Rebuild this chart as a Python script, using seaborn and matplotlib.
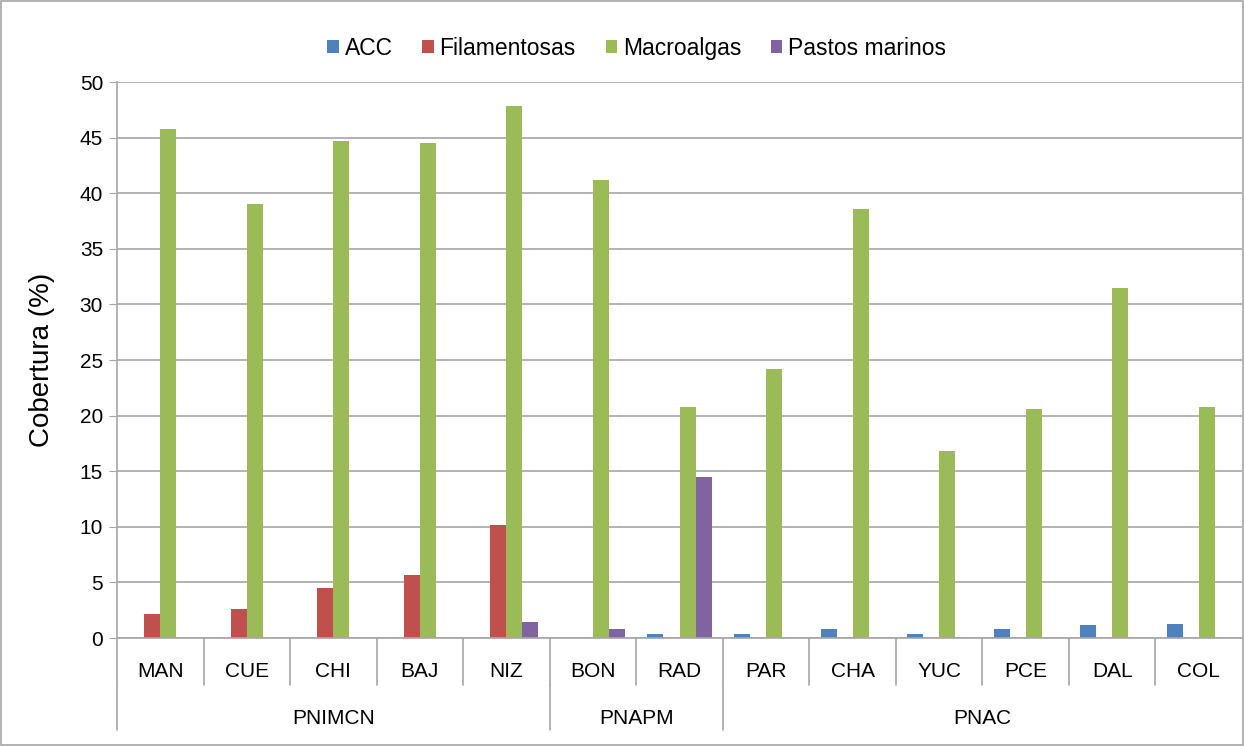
import matplotlib
matplotlib.use("Agg")
import matplotlib.pyplot as plt
import matplotlib.transforms as mtransforms
from matplotlib import font_manager
import seaborn as sns
import pandas as pd

sites = ["MAN", "CUE", "CHI", "BAJ", "NIZ", "BON", "RAD", "PAR", "CHA", "YUC", "PCE", "DAL", "COL"]
groups = ["PNIMCN", "PNAPM", "PNAC"]
group_sizes = [5, 2, 6]
series = ["ACC", "Filamentosas", "Macroalgas", "Pastos marinos"]
acc = [0, 0, 0, 0, 0, 0, 0.4, 0.4, 0.8, 0.4, 0.8, 1.2, 1.3]
filamentosas = [2.2, 2.6, 4.5, 5.7, 10.2, 0, 0, 0, 0, 0, 0, 0, 0]
macroalgas = [45.8, 39.0, 44.7, 44.5, 47.8, 41.2, 20.8, 24.2, 38.6, 16.8, 20.6, 31.5, 20.8]
pastos = [0, 0, 0, 0, 1.4, 0.8, 14.5, 0, 0, 0, 0, 0, 0]
colors = ["#4F81BD", "#C0504D", "#9BBB59", "#8064A2"]

rows = []
for name, vals in zip(series, [acc, filamentosas, macroalgas, pastos]):
    for s, v in zip(sites, vals):
        rows.append({"site": s, "serie": name, "valor": v})
df = pd.DataFrame(rows)

sns.set_style("white")
avail = {f.name for f in font_manager.fontManager.ttflist}
fam = "Liberation Sans Narrow" if "Liberation Sans Narrow" in avail else "Liberation Sans"
plt.rcParams["font.family"] = [fam, "DejaVu Sans"]
plt.rcParams["text.color"] = "black"
plt.rcParams["axes.labelcolor"] = "black"
plt.rcParams["xtick.color"] = "black"
plt.rcParams["ytick.color"] = "black"

fig = plt.figure(figsize=(12.44, 7.46), dpi=100)
ax = fig.add_axes([117 / 1244, 1 - 638 / 746, (1242 - 117) / 1244, (638 - 82) / 746])

sns.barplot(data=df, x="site", y="valor", hue="serie", order=sites, hue_order=series,
            palette=colors, width=0.74, gap=0, saturation=1, ax=ax, errorbar=None,
            edgecolor="none", linewidth=0)

ax.set_ylim(0, 50)
ax.set_xlim(-0.5, len(sites) - 0.5)
ax.set_yticks(range(0, 51, 5))
ax.yaxis.grid(True, color="#A6A6A6", linewidth=1.2)
ax.set_axisbelow(True)
for sp in ["top", "right"]:
    ax.spines[sp].set_visible(False)
for sp in ["left", "bottom"]:
    ax.spines[sp].set_color("#A6A6A6")
    ax.spines[sp].set_linewidth(1.2)
ax.tick_params(axis="y", which="both", left=True, length=6, color="#A6A6A6",
               labelcolor="black", labelsize=15, pad=4)
ax.tick_params(axis="x", bottom=False, labelcolor="black", labelsize=15, pad=14)
ax.set_xlabel("")
ax.set_ylabel("Cobertura (%)", fontsize=20, labelpad=18, color="black")

trans = mtransforms.blended_transform_factory(ax.transData, ax.transAxes)
# category separators
for i in range(len(sites)):
    ax.plot([i - 0.5, i - 0.5], [0, -0.084], transform=trans, color="#A6A6A6",
            linewidth=1.2, clip_on=False)
# group separators and labels
start = 0
bounds = [0]
for g, n in zip(groups, group_sizes):
    ax.text(start + (n - 1) / 2, -0.145, g, transform=trans, ha="center", va="center",
            fontsize=15, color="black")
    start += n
    bounds.append(start)
for b in bounds[:-1]:
    ax.plot([b - 0.5, b - 0.5], [-0.084, -0.165], transform=trans, color="#A6A6A6",
            linewidth=1.2, clip_on=False)

leg = ax.legend(loc="upper center", bbox_to_anchor=(0.462, 1.118), ncol=4, frameon=False,
                fontsize=16.5, handlelength=0.5, handleheight=0.5, handletextpad=0.25,
                columnspacing=1.3, labelcolor="black")

fig.patches.append(plt.Rectangle((0.001, 0.001), 0.998, 0.997, transform=fig.transFigure,
                                 fill=False, edgecolor="#A6A6A6", linewidth=1.2))
fig.savefig("out.png", dpi=100)
